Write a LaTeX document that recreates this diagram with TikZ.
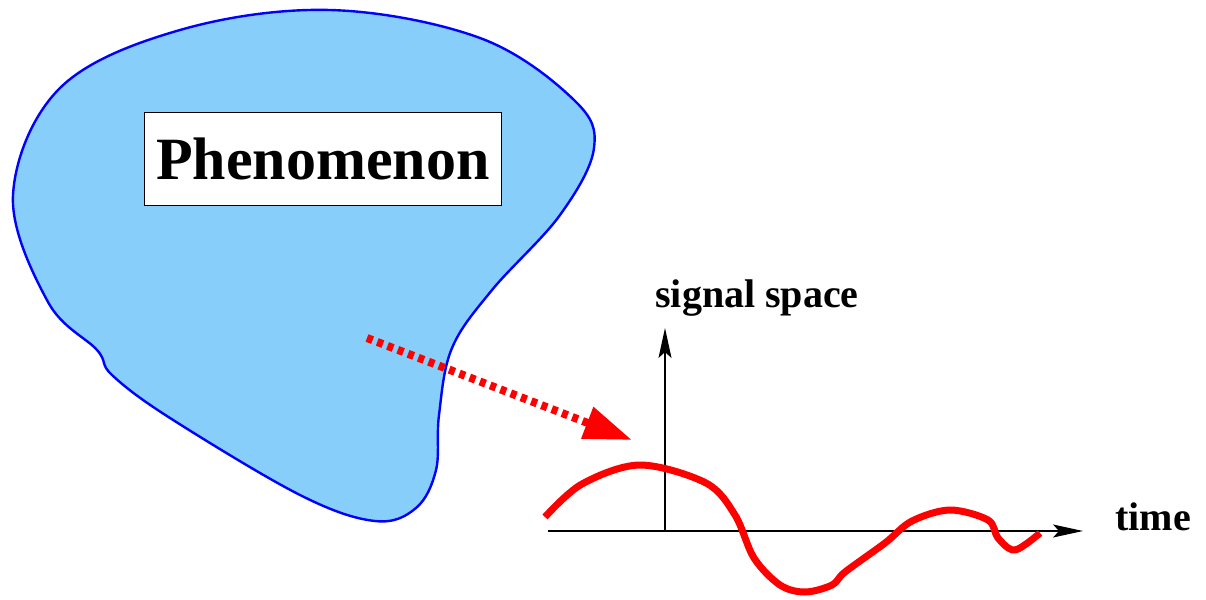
\documentclass[tikz,border=0pt]{standalone}
\usepackage{fontspec}
\setmainfont{Liberation Serif}
\usetikzlibrary{arrows.meta, positioning, calc}

\definecolor{blobfill}{RGB}{135,206,250}
\definecolor{blobline}{RGB}{0,0,255}
\definecolor{sigred}{RGB}{255,0,0}

\tikzset{
  blob/.style={draw=blobline, fill=blobfill, line width=2.4pt},
  axisline/.style={line width=1.3pt, -{Stealth[length=30pt, width=13pt, inset=6pt]}},
  axistext/.style={font=\fontsize{40}{48}\selectfont\bfseries, inner sep=0pt},
  signal/.style={draw=sigred, line width=7pt, line join=round},
  probe/.style={draw=sigred, line width=8pt, dash pattern=on 6pt off 5pt,
    -{Triangle[length=48pt, width=32pt]}}
}

\begin{document}
\begin{tikzpicture}[x=1pt, y=-1pt, >=latex, thick]
    \useasboundingbox (0,0) rectangle (1206,599);

    % ================= Phenomenon blob =================
    \draw[blob] plot[smooth cycle, tension=0.6] coordinates {
      (13,195) (60,88) (180,30) (330,10) (480,38) (574,100) (594,148)
      (560,215) (492,290) (452,348) (439,415) (436,470) (416,508)
      (375,521) (300,495) (170,418) (112,375) (97,350) (48,302)};

    % label box
    \node[draw, fill=white, line width=1pt, minimum width=357pt, minimum height=92pt,
          inner sep=0pt, font=\fontsize{60}{72}\selectfont\bfseries]
          (phenomenon) at (323,159) {Phenomenon};

    % ================= Axes =================
    \coordinate (origin) at (665,531);
    \coordinate (xstart) at (548,531);
    \coordinate (xend) at (1083,531);
    \coordinate (yend) at (665,328);
    \draw[axisline] (xstart) -- (xend);
    \draw[axisline] (origin) -- (yend);

    \node[axistext, anchor=base] (sigspace) at (757,307) {signal space};
    \node[axistext, anchor=base west] (timelbl) at (1115,530) {time};

    % ================= Signal =================
    \draw[signal] plot[smooth, tension=0.55] coordinates {
      (545,517) (582,484) (640,465) (706,483) (735,515) (754,558)
      (780,585) (805,592) (832,585) (845,572) (885,543) (912,521) (950,510)
      (988,520) (998,538) (1015,550) (1040,533)};

    % ================= Probe arrow =================
    \coordinate (probestart) at (367,338);
    \coordinate (probetip) at (632,440);
    \draw[probe] (probestart) -- (probetip);

\end{tikzpicture}
\end{document}
